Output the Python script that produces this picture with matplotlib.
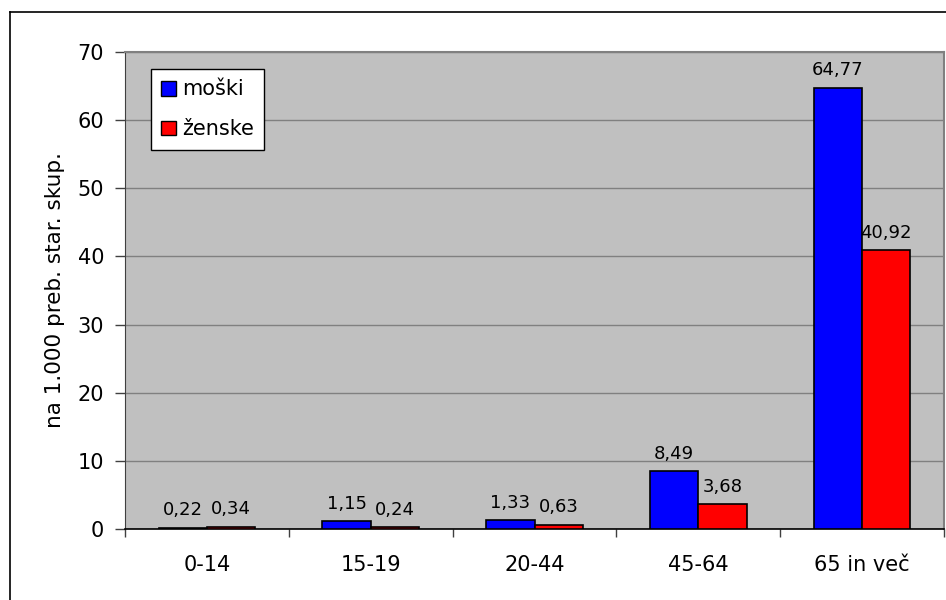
import matplotlib
matplotlib.use("Agg")
import matplotlib.pyplot as plt
import numpy as np
from matplotlib.lines import Line2D
from matplotlib.patches import Patch

plt.rcParams['font.family'] = ['DejaVu Sans']

# podatki
groups = ["0-14", "15-19", "20-44", "45-64", "65 in več"]
moski = [0.22, 1.15, 1.33, 8.49, 64.77]
zenske = [0.34, 0.24, 0.63, 3.68, 40.92]
series_names = ["moški", "ženske"]
yticks = [0, 10, 20, 30, 40, 50, 60, 70]

fig = plt.figure(figsize=(9.46, 6.0), dpi=100)
ax = fig.add_axes([125 / 946, 71 / 600, 819 / 946, 477 / 600])
ax.set_facecolor("#c0c0c0")

x = np.arange(len(groups))
w = 0.295
b1 = ax.bar(x - w / 2, moski, w, color="#0000ff", edgecolor="black", linewidth=1.2, zorder=3)
b2 = ax.bar(x + w / 2, zenske, w, color="#ff0000", edgecolor="black", linewidth=1.2, zorder=3)

def fmt(v):
    return f"{v:.2f}".replace(".", ",")

for bars, vals in ((b1, moski), (b2, zenske)):
    for r, v in zip(bars, vals):
        ax.annotate(fmt(v), (r.get_x() + r.get_width() / 2, v),
                    xytext=(0, 6), textcoords="offset points",
                    ha="center", va="bottom", fontsize=13, zorder=4)

ax.set_xlim(-0.5, len(groups) - 0.5)
ax.set_ylim(0, 70)
ax.set_yticks(yticks)
ax.yaxis.grid(True, color="#808080", linewidth=1.0, zorder=0)
ax.set_axisbelow(True)

ax.set_xticks(x)
ax.set_xticklabels(groups)
ax.set_xticks(np.arange(len(groups) + 1) - 0.5, minor=True)
ax.tick_params(axis="x", which="major", length=0, pad=19, labelsize=15)
ax.tick_params(axis="x", which="minor", length=6, width=1, direction="out", color="#404040")
ax.tick_params(axis="y", length=7, width=1, pad=8, labelsize=15, direction="out", color="#404040")

for s in ("top", "right"):
    ax.spines[s].set_color("#808080")
    ax.spines[s].set_linewidth(1.5)
ax.spines["left"].set_color("#404040")
ax.spines["bottom"].set_color("black")
ax.spines["bottom"].set_linewidth(1.2)

ax.set_ylabel("na 1.000 preb. star. skup.", fontsize=15.5, labelpad=9)

handles = [Patch(facecolor="#0000ff", edgecolor="black"),
           Patch(facecolor="#ff0000", edgecolor="black")]
leg = ax.legend(handles, series_names, loc="upper left",
                bbox_to_anchor=((151 - 125) / 819, (529 - 69) / 477), borderaxespad=0,
                fontsize=15, frameon=True, fancybox=False, framealpha=1,
                handlelength=0.72, handleheight=0.72, handletextpad=0.25,
                labelspacing=0.95, borderpad=0.5)
leg.get_frame().set_edgecolor("black")
leg.get_frame().set_linewidth(1.0)

# zunanji okvir grafikona
fig.add_artist(Line2D([9.5 / 946, 9.5 / 946], [0, 1 - 12 / 600], color="black", linewidth=1.2,
                      transform=fig.transFigure))
fig.add_artist(Line2D([9.5 / 946, 1], [1 - 12 / 600, 1 - 12 / 600], color="black", linewidth=1.2,
                      transform=fig.transFigure))

fig.savefig("out.png", dpi=100)
